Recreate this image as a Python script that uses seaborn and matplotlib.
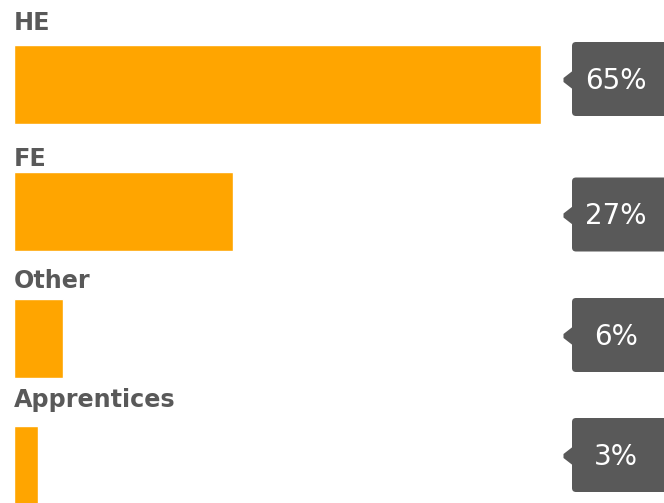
import matplotlib
matplotlib.use("Agg")
import matplotlib.pyplot as plt
import seaborn as sns
import pandas as pd
from matplotlib.patches import FancyBboxPatch, Polygon

categories = ["HE", "FE", "Other", "Apprentices"]
shares = [65, 27, 6, 3]
value_labels = ["65%", "27%", "6%", "3%"]

# Layout in pixels
W, H = 664, 503
BAR_LEFT = 14          # pixel where 0% sits
PX_PER_PCT = 527 / 65  # horizontal scale
ROW_PX = 127           # distance between bar centres
FIRST_ROW_PX = 84      # centre of the first bar from the top
label_rise = [15, 5, 11, 18]      # label baseline above bar top
box_shift = [-5, 3.5, -3, -10]    # callout centre relative to bar centre

ORANGE = "#FFA500"
GREY = "#595959"

sns.set_theme(style="white")
plt.rcParams["font.family"] = ["DejaVu Sans"]

fig = plt.figure(figsize=(W / 100, H / 100), dpi=100)
ax = fig.add_axes([0, 0, 1, 1])
df = pd.DataFrame({"category": categories, "share": shares})
sns.barplot(data=df, x="share", y="category", orient="h", color=ORANGE,
            saturation=1, width=79 / ROW_PX, ax=ax)
ax.set_xlim(-BAR_LEFT / PX_PER_PCT, (W - BAR_LEFT) / PX_PER_PCT)
ax.set_ylim((H - FIRST_ROW_PX) / ROW_PX, -FIRST_ROW_PX / ROW_PX)
ax.axis("off")

# Overlay in pixel coordinates for labels and callouts
ov = fig.add_axes([0, 0, 1, 1], zorder=5)
ov.set_xlim(0, W)
ov.set_ylim(H, 0)
ov.axis("off")

for i, (cat, lab, bar) in enumerate(zip(categories, value_labels, ax.patches)):
    y0 = bar.get_y()
    y1 = y0 + bar.get_height()
    top_px = H - ax.transData.transform((0, y0))[1]
    bot_px = H - ax.transData.transform((0, y1))[1]
    top_px, bot_px = min(top_px, bot_px), max(top_px, bot_px)
    centre = (top_px + bot_px) / 2

    ov.text(14, top_px - label_rise[i], cat, fontsize=17.2, fontweight="bold",
            color=GREY, ha="left", va="baseline")

    cy = centre + box_shift[i]
    ov.add_patch(FancyBboxPatch((572, cy - 37), 110, 74,
                                boxstyle="round,pad=0,rounding_size=4",
                                fc=GREY, ec="none"))
    ov.add_patch(Polygon([(572.5, cy - 8), (563.5, cy - 1), (563.5, cy + 3),
                          (572.5, cy + 10)],
                         closed=True, fc=GREY, ec="none"))
    ov.text(616, cy + 10, lab, fontsize=20, color="white",
            ha="center", va="baseline")

fig.savefig("out.png", dpi=100)
